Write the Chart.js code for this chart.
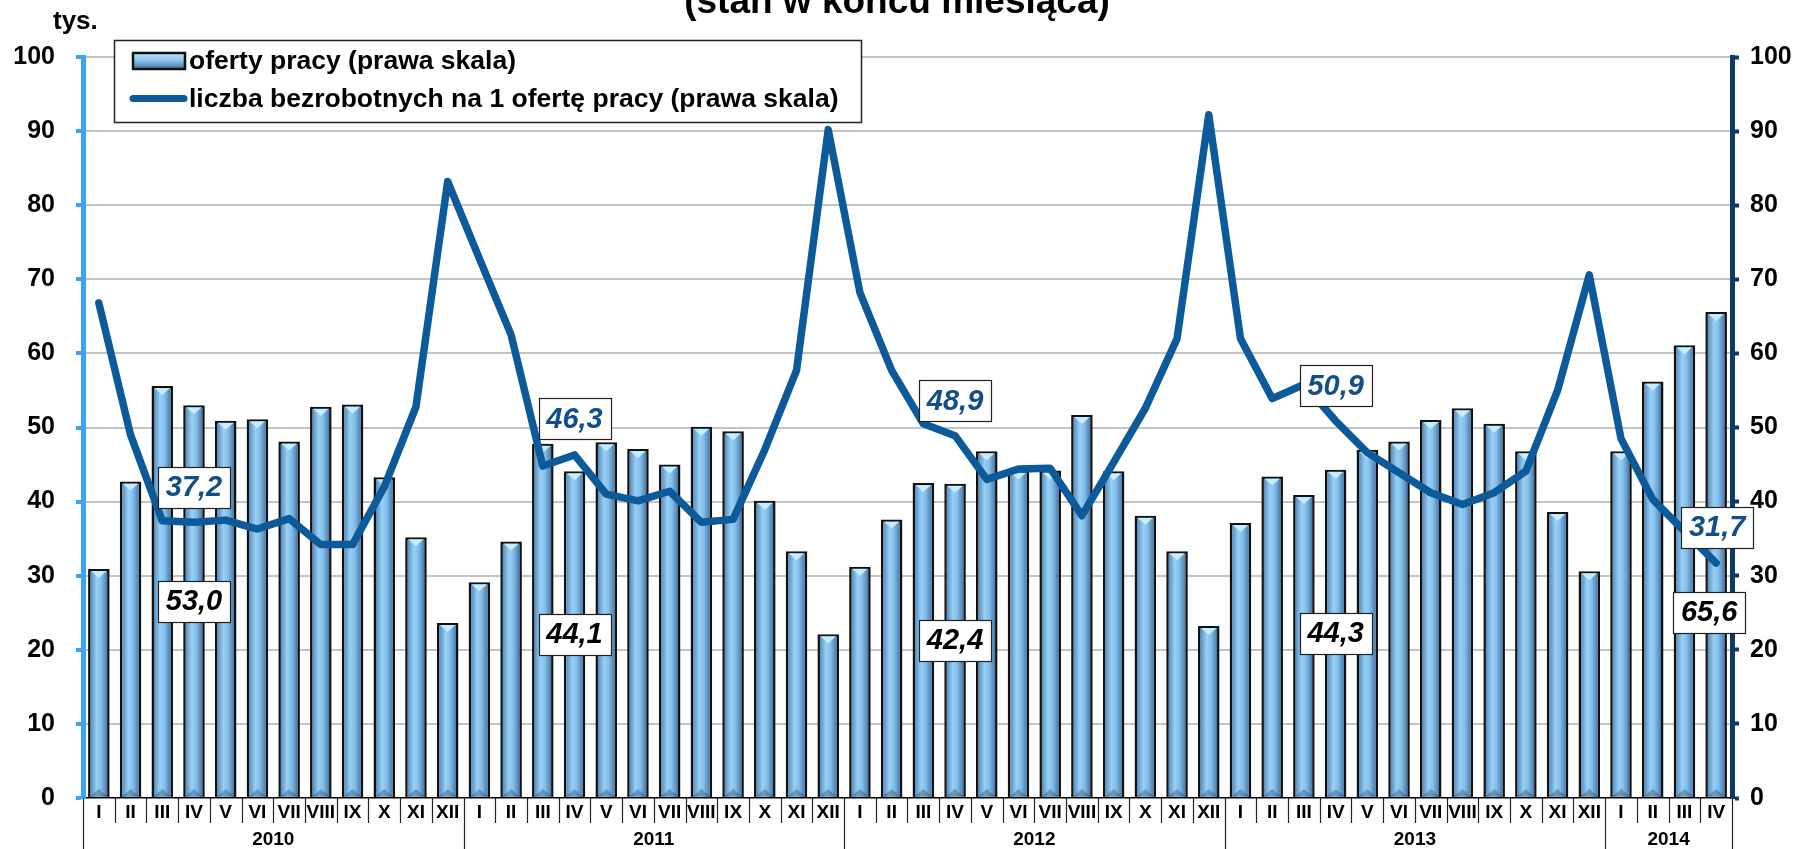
<!DOCTYPE html>
<html>
<head>
<meta charset="utf-8">
<script src="https://cdn.jsdelivr.net/npm/chart.js@4.4.1/dist/chart.umd.min.js"></script>
<style>
  html, body { margin: 0; padding: 0; background: #ffffff; }
  #wrap { position: relative; width: 1804px; height: 849px; overflow: hidden; }
  canvas { display: block; }
</style>
</head>
<body>
<div id="wrap"><canvas id="chart" width="1804" height="849"></canvas></div>
<script>
// ---------------- DATA ----------------
const months = ['I','II','III','IV','V','VI','VII','VIII','IX','X','XI','XII'];
const years = ['2010','2011','2012','2013','2014'];
const monthsPerYear = [12, 12, 12, 12, 4];

// oferty pracy (tys.)
const offers2010 = [30.9, 42.7, 55.6, 53.0, 50.9, 51.1, 48.1, 52.8, 53.1, 43.3, 35.2, 23.6];
const offers2011 = [29.1, 34.6, 47.8, 44.1, 48.0, 47.1, 45.0, 50.1, 49.5, 40.1, 33.3, 22.1];
const offers2012 = [31.2, 37.6, 42.5, 42.4, 46.8, 44.2, 44.2, 51.7, 44.1, 38.1, 33.3, 23.2];
const offers2013 = [37.1, 43.4, 40.9, 44.3, 47.0, 48.1, 51.0, 52.6, 50.5, 46.8, 38.6, 30.6];
const offers2014 = [46.8, 56.2, 61.1, 65.6];

// liczba bezrobotnych na 1 ofertę pracy
const perOffer2010 = [66.8, 49.0, 37.4, 37.2, 37.5, 36.3, 37.7, 34.2, 34.2, 42.0, 52.8, 83.2];
const perOffer2011 = [72.8, 62.5, 44.8, 46.3, 41.0, 40.1, 41.4, 37.2, 37.6, 47.0, 57.7, 90.2];
const perOffer2012 = [68.2, 57.7, 50.5, 48.9, 43.0, 44.4, 44.5, 38.1, 45.3, 52.6, 62.0, 92.2];
const perOffer2013 = [62.0, 53.9, 55.8, 50.9, 46.6, 43.9, 41.2, 39.6, 41.2, 44.1, 55.0, 70.6];
const perOffer2014 = [48.5, 40.3, 36.0, 31.7];

const yTicks = [0, 10, 20, 30, 40, 50, 60, 70, 80, 90, 100];
const labelledMonth = 'IV';

const seriesNames = ['oferty pracy (prawa skala)', 'liczba bezrobotnych na 1 ofertę pracy (prawa skala)'];
const titleText = '(stan w końcu miesiąca)';
const unitText = 'tys.';

// ---------------- BUILD ----------------
const categories = [];
monthsPerYear.forEach(n => { for (let i = 0; i < n; i++) categories.push(months[i]); });
const offers = [].concat(offers2010, offers2011, offers2012, offers2013, offers2014);
const perOffer = [].concat(perOffer2010, perOffer2011, perOffer2012, perOffer2013, perOffer2014);
const N = categories.length;

const FONT = '"Liberation Sans", Arial, Helvetica, sans-serif';
Chart.defaults.font.family = FONT;
Chart.defaults.color = '#000';

const LINE_COLOR = '#0C5A99';
const LEFT_AXIS = '#3FA3F4';
const RIGHT_AXIS = '#0B3A68';
const BAR_FRAC = 0.68;

function fmt(v) { return v.toFixed(1).replace('.', ','); }

function barFill(ctx) {
  const chart = ctx.chart;
  const xs = chart.scales && chart.scales.x;
  if (ctx.type !== 'data' || !xs || !chart.chartArea || !xs.width) return '#7DB9E8';
  const cx = xs.getPixelForValue(ctx.dataIndex);
  const w = xs.width / N * BAR_FRAC;
  const g = chart.ctx.createLinearGradient(cx - w / 2, 0, cx + w / 2, 0);
  g.addColorStop(0, '#2A5070');
  g.addColorStop(0.15, '#5F95C4');
  g.addColorStop(0.40, '#98D0F7');
  g.addColorStop(0.60, '#84BFEA');
  g.addColorStop(0.83, '#5589B8');
  g.addColorStop(1, '#23415E');
  return g;
}

// bevel decorations on bars
const bevelPlugin = {
  id: 'bevel',
  afterDatasetDraw(chart, args) {
    if (args.index !== 0) return;
    const ctx = chart.ctx;
    ctx.save();
    args.meta.data.forEach(el => {
      const p = el.getProps(['x', 'y', 'base', 'width'], true);
      const l = p.x - p.width / 2 + 2, r = p.x + p.width / 2 - 2;
      ctx.fillStyle = 'rgba(200,238,255,0.95)';
      ctx.beginPath();
      ctx.moveTo(l + 1, p.y + 2);
      ctx.lineTo(r - 1, p.y + 2);
      ctx.lineTo(p.x, p.y + 9);
      ctx.closePath();
      ctx.fill();
      ctx.fillStyle = 'rgba(30,60,90,0.35)';
      ctx.beginPath();
      ctx.moveTo(l, p.base - 0.5);
      ctx.lineTo(r, p.base - 0.5);
      ctx.lineTo(p.x, p.base - 8);
      ctx.closePath();
      ctx.fill();
    });
    ctx.restore();
  }
};

// two-level x axis: month dividers, year dividers and year labels
const yearAxisPlugin = {
  id: 'yearAxis',
  afterDraw(chart, args, opts) {
    const xs = chart.scales.x;
    const ctx = chart.ctx;
    const cw = xs.width / N;
    const top = chart.chartArea.bottom;
    ctx.save();
    ctx.strokeStyle = '#222';
    ctx.lineWidth = 1.2;
    const yearStarts = [];
    let s = 0;
    monthsPerYear.forEach(n => { yearStarts.push(s); s += n; });
    yearStarts.push(N);
    for (let i = 0; i <= N; i++) {
      const bx = Math.round(xs.getPixelForValue(Math.min(i, N - 1)) + (i === N ? cw / 2 : -cw / 2)) + 0.5;
      const isYear = yearStarts.includes(i);
      ctx.beginPath();
      ctx.moveTo(bx, top);
      ctx.lineTo(bx, isYear ? chart.height : opts.monthDividerBottom);
      ctx.stroke();
    }
    ctx.font = 'bold 19px ' + FONT;
    ctx.fillStyle = '#000';
    ctx.textAlign = 'center';
    ctx.textBaseline = 'middle';
    years.forEach((yr, k) => {
      const a = yearStarts[k], b = yearStarts[k + 1] - 1;
      const cx = (xs.getPixelForValue(a) + xs.getPixelForValue(b)) / 2;
      ctx.fillText(yr, cx, opts.yearLabelY);
    });
    ctx.restore();
  }
};

function drawBox(ctx, cx, cy, text, color) {
  ctx.font = 'italic bold 29px ' + FONT;
  const tw = ctx.measureText(text).width;
  const w = Math.round(tw + 16), h = 41;
  const x0 = Math.round(cx - w / 2) + 0.5, y0 = Math.round(cy - h / 2) + 0.5;
  ctx.fillStyle = '#fff';
  ctx.fillRect(x0, y0, w, h);
  ctx.strokeStyle = '#222';
  ctx.lineWidth = 1.2;
  ctx.strokeRect(x0, y0, w, h);
  ctx.fillStyle = color;
  ctx.textAlign = 'center';
  ctx.textBaseline = 'middle';
  ctx.fillText(text, cx, cy + 1);
}

// value boxes for April of each year
const valueLabelPlugin = {
  id: 'valueLabels',
  afterDraw(chart, args, opts) {
    const ctx = chart.ctx;
    const barMeta = chart.getDatasetMeta(0);
    const lineMeta = chart.getDatasetMeta(1);
    ctx.save();
    let k = 0;
    categories.forEach((m, i) => {
      if (m !== labelledMonth) return;
      const b = barMeta.data[i].getProps(['x', 'y', 'base'], true);
      const bo = opts.barOffsets[k] || [0, 0];
      drawBox(ctx, b.x + bo[0], (b.y + b.base) / 2 + bo[1], fmt(offers[i]), '#000');
      const l = lineMeta.data[i].getProps(['x', 'y'], true);
      const lo = opts.lineOffsets[k] || [0, -35];
      drawBox(ctx, l.x + lo[0], l.y + lo[1], fmt(perOffer[i]), '#124E87');
      k++;
    });
    ctx.restore();
  }
};

// title, unit, custom boxed legend
const decorPlugin = {
  id: 'decor',
  afterDraw(chart) {
    const ctx = chart.ctx;
    ctx.save();
    ctx.fillStyle = '#000';
    ctx.font = 'bold 37px ' + FONT;
    ctx.textAlign = 'center';
    ctx.textBaseline = 'alphabetic';
    ctx.fillText(titleText, 897, 13);
    ctx.font = 'bold 26px ' + FONT;
    ctx.textAlign = 'left';
    ctx.fillText(unitText, 53, 29);

    // legend box
    const lx = 114.5, ly = 40.5, lw = 747, lh = 82;
    ctx.fillStyle = '#fff';
    ctx.fillRect(lx, ly, lw, lh);
    ctx.strokeStyle = '#222';
    ctx.lineWidth = 1.5;
    ctx.strokeRect(lx, ly, lw, lh);
    // bar swatch
    const g = ctx.createLinearGradient(0, 53, 0, 69);
    g.addColorStop(0, '#BFE8FF');
    g.addColorStop(0.5, '#86BFEA');
    g.addColorStop(1, '#45739E');
    ctx.fillStyle = g;
    ctx.fillRect(133, 53, 52, 16);
    ctx.strokeStyle = '#111';
    ctx.lineWidth = 2.5;
    ctx.strokeRect(133, 53, 52, 16);
    // line swatch
    ctx.strokeStyle = LINE_COLOR;
    ctx.lineWidth = 7;
    ctx.lineCap = 'round';
    ctx.beginPath();
    ctx.moveTo(133, 98.5);
    ctx.lineTo(184, 98.5);
    ctx.stroke();
    // legend text
    ctx.fillStyle = '#000';
    ctx.font = 'bold 26.5px ' + FONT;
    ctx.textAlign = 'left';
    ctx.textBaseline = 'middle';
    ctx.fillText(chart.data.datasets[0].label, 189, 62);
    ctx.fillText(chart.data.datasets[1].label, 189, 100);
    ctx.restore();
  }
};

const chart = new Chart(document.getElementById('chart'), {
  data: {
    labels: categories,
    datasets: [
      {
        type: 'bar',
        label: seriesNames[0],
        data: offers,
        yAxisID: 'y',
        order: 2,
        backgroundColor: barFill,
        borderColor: '#111',
        borderWidth: 2.5,
        borderSkipped: 'start',
        categoryPercentage: 1,
        barPercentage: BAR_FRAC
      },
      {
        type: 'line',
        label: seriesNames[1],
        data: perOffer,
        yAxisID: 'y1',
        order: 1,
        borderColor: LINE_COLOR,
        borderWidth: 7.5,
        borderJoinStyle: 'round',
        borderCapStyle: 'round',
        pointRadius: 0,
        pointHoverRadius: 0,
        tension: 0,
        fill: false
      }
    ]
  },
  options: {
    responsive: false,
    animation: false,
    devicePixelRatio: 1,
    layout: { padding: { top: 57, left: 0, right: 0, bottom: 0 } },
    plugins: {
      legend: { display: false },
      title: { display: false },
      tooltip: { enabled: false },
      yearAxis: { monthDividerBottom: 823, yearLabelY: 840 },
      valueLabels: {
        barOffsets: [[0, 0], [0, 0], [0, 0], [0, 0], [-7, 58]],
        lineOffsets: [[0, -35], [0, -36], [0, -35], [0, -35], [1, -36]]
      }
    },
    scales: {
      x: {
        type: 'category',
        offset: true,
        grid: { display: false, drawTicks: false },
        border: { display: true, color: '#000', width: 1.5 },
        ticks: {
          autoSkip: false, maxRotation: 0, minRotation: 0, padding: 3,
          font: { size: 19, weight: 'bold' }, color: '#000'
        },
        afterFit(s) { s.height = 51; }
      },
      y: {
        position: 'left',
        min: 0, max: 100,
        afterBuildTicks(s) { s.ticks = yTicks.map(v => ({ value: v })); },
        ticks: { padding: 21, font: { size: 25, weight: 'bold' }, color: '#000' },
        grid: {
          color: c => (c.tick && c.tick.value === 0) ? 'rgba(0,0,0,0)' : '#C4C4C4',
          lineWidth: 2,
          drawTicks: true, tickLength: 7, tickColor: LEFT_AXIS, tickWidth: 4
        },
        border: { display: true, color: LEFT_AXIS, width: 5 },
        afterFit(s) { s.width = 83; }
      },
      y1: {
        position: 'right',
        min: 0, max: 100,
        afterBuildTicks(s) { s.ticks = yTicks.map(v => ({ value: v })); },
        ticks: { padding: 11, font: { size: 25, weight: 'bold' }, color: '#000' },
        grid: {
          drawOnChartArea: false,
          drawTicks: true, tickLength: 7, tickColor: RIGHT_AXIS, tickWidth: 4
        },
        border: { display: true, color: RIGHT_AXIS, width: 5 },
        afterFit(s) { s.width = 72; }
      }
    }
  },
  plugins: [bevelPlugin, yearAxisPlugin, valueLabelPlugin, decorPlugin]
});
</script>
</body>
</html>
